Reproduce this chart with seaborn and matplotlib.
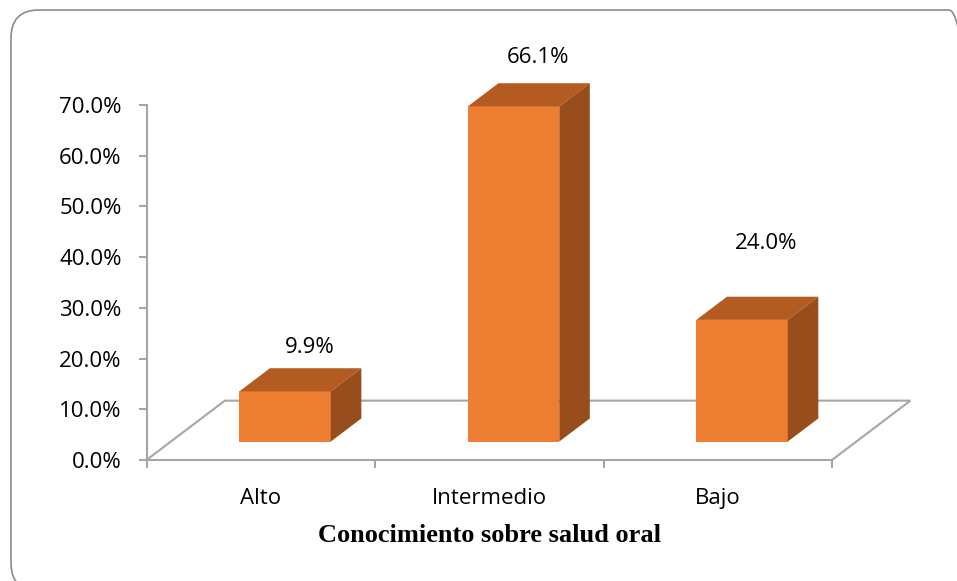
import matplotlib
matplotlib.use('Agg')
import matplotlib.pyplot as plt
import seaborn as sns
from matplotlib.patches import Polygon, FancyBboxPatch
from matplotlib.ticker import FixedLocator

sns.set_style('white')
plt.rcParams['font.family'] = ['Open Sans', 'DejaVu Sans']
plt.rcParams['text.color'] = 'black'

# data
categorias = ['Alto', 'Intermedio', 'Bajo']
porcentajes = [9.9, 66.1, 24.0]
etiquetas = ['9.9%', '66.1%', '24.0%']
yticks = [0, 10, 20, 30, 40, 50, 60, 70]
ytick_labels = ['0.0%', '10.0%', '20.0%', '30.0%', '40.0%', '50.0%', '60.0%', '70.0%']
xlabel = 'Conocimiento sobre salud oral'

# look
c_front = '#ED7D31'
c_top = '#B35B20'
c_side = '#984E1C'
c_axis = '#A6A6A6'
depth = (0.343, 11.7)      # floor depth in data units (x, y)
front_frac = 0.31          # bar front position inside the floor depth
bar_frac = 0.39            # bar depth as a fraction of floor depth
label_lift = [21, 26, 53]  # px above the bar top

fig = plt.figure(figsize=(9.57, 5.81), dpi=100)
ax = fig.add_axes([0.1531, 0.2083, 0.8118, 0.6983])

sns.barplot(x=categorias, y=porcentajes, color=c_front, saturation=1,
            width=0.4, ax=ax, zorder=3, linewidth=0)

n = len(categorias)
ax.set_xlim(-0.5, 2.9)
ax.set_ylim(0, 80)

# floor (back edge and side edges)
x0, x1 = -0.5, n - 0.5
dx, dy = depth
ax.plot([x0, x0 + dx, x1 + dx, x1], [0, dy, dy, 0], color=c_axis, lw=1.5,
        zorder=1, clip_on=False, solid_joinstyle='miter')

# 3d faces of the bars
ox, oy = front_frac * dx, front_frac * dy
bx, by = bar_frac * dx, bar_frac * dy
for p, lab, lift in zip(ax.patches, etiquetas, label_lift):
    p.set_x(p.get_x() + ox)
    p.set_y(oy)
    x, w, h = p.get_x(), p.get_width(), p.get_height()
    top = oy + h
    ax.add_patch(Polygon([(x, top), (x + w, top), (x + w + bx, top + by), (x + bx, top + by)],
                         closed=True, facecolor=c_top, edgecolor='none', zorder=3))
    ax.add_patch(Polygon([(x + w, oy), (x + w + bx, oy + by), (x + w + bx, top + by), (x + w, top)],
                         closed=True, facecolor=c_side, edgecolor='none', zorder=3))
    ax.annotate(lab, (x + w / 2 + 0.8 * bx, top + by), xytext=(0, lift),
                textcoords='offset pixels', ha='center', va='center',
                fontsize=16, color='black', annotation_clip=False)

# axes
for s in ['top', 'right']:
    ax.spines[s].set_visible(False)
for s in ['left', 'bottom']:
    ax.spines[s].set_color(c_axis)
    ax.spines[s].set_linewidth(1.5)
ax.spines['left'].set_bounds(0, 70)
ax.spines['bottom'].set_bounds(x0, x1)

ax.set_yticks(yticks)
ax.set_yticklabels(ytick_labels)
ax.tick_params(axis='y', length=6, width=1.5, color=c_axis, pad=12, labelsize=16,
               labelcolor='black', left=True)
ax.set_xticks(range(n))
ax.set_xticklabels(categorias)
ax.xaxis.set_minor_locator(FixedLocator([i - 0.5 for i in range(n + 1)]))
ax.tick_params(axis='x', which='major', length=0, pad=20, labelsize=16, labelcolor='black')
ax.tick_params(axis='x', which='minor', length=6, width=1.5, color=c_axis, bottom=True)
ax.set_xlabel('')
ax.set_ylabel('')
ax.patch.set_visible(False)

fig.text(489 / 957, 1 - 535 / 581, xlabel, ha='center', va='center', color='black',
         fontsize=19, fontweight='bold', family='Liberation Serif')

# rounded chart border
fig.add_artist(FancyBboxPatch((0.11, -0.1), 9.66, 5.81,
                              boxstyle='round,pad=0,rounding_size=0.28',
                              transform=fig.dpi_scale_trans, facecolor='none',
                              edgecolor='#8C8C8C', lw=1.2))

fig.savefig('out.png', dpi=100)
